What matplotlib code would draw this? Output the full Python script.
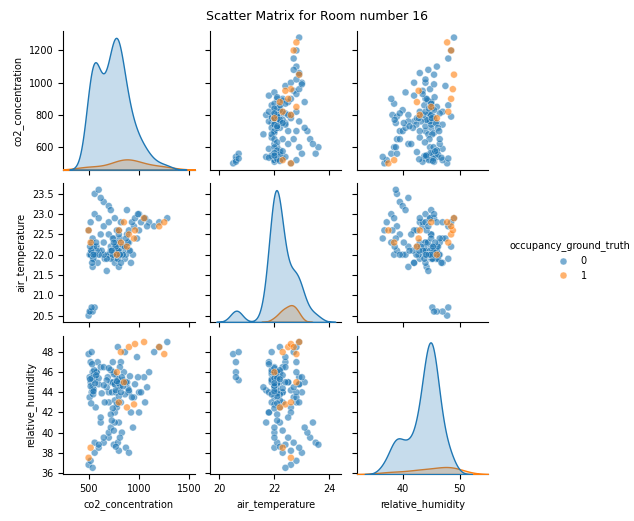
import matplotlib
matplotlib.use("Agg")
import matplotlib.pyplot as plt
import seaborn as sns
import pandas as pd

co2_0 = [500,520,540,560,510,530, 520,540,560,580,530,550,600,510,570,590,620,540,
         500,520,560,600,650,700,750,800,540, 560,600,650,700,620,
         700,720,750,780,800,820,760,740,850,880,900,780,800,830,700,650,680,760,950,1000,
         1050,1100,980,920,860,790,720,870,900,1000,940,620,660,760,820,880,780,730,810,690,
         770,840,800,1280,1150,1200,
         740,760,790,810,830,770,750,720,800,780,860,890,910,700,680,650,630,600,580,550,
         760,780,800,820,740,720,840,870,900,930,960,990,1020,1060,1080,790,810,770,750,730,
         520,530,545,555,565,575,525,535,548,515]
temp_0 = [20.5,20.6,20.6,20.7,20.6,20.7, 22.0,22.1,22.0,22.2,22.3,21.9,22.1,22.0,22.2,21.8,22.0,21.7,
          22.6,22.8,23.0,22.9,22.7,22.5,22.4,22.6,22.4, 23.5,23.6,23.3,23.2,23.4,
          22.0,22.2,21.9,22.1,22.0,22.3,21.8,22.4,22.2,22.5,22.1,22.6,21.7,22.0,22.8,22.3,21.6,22.9,22.7,23.0,
          22.9,22.8,22.4,21.8,21.9,22.2,23.1,22.0,22.3,22.6,22.0,22.5,21.9,22.2,22.8,23.1,21.9,22.1,22.4,22.0,
          22.3,22.1,22.5,22.9,22.7,22.8,
          22.0,22.1,21.9,22.0,22.2,22.1,22.0,21.9,22.1,22.0,22.2,22.3,22.1,22.0,21.9,22.0,22.1,22.0,22.1,22.0,
          22.2,22.0,22.1,21.8,22.0,22.1,22.0,22.4,22.6,22.8,22.9,23.0,22.8,22.9,22.7,22.1,22.0,22.2,22.3,22.1,
          22.0,22.1,21.9,22.2,22.0,22.3,22.1,21.8,22.0,22.2]
hum_0 = [47.8,47.0,46.0,45.2,45.5,48.0, 45.0,44.5,45.5,46.0,44.0,45.8,44.8,43.5,42.5,47.0,46.5,44.2,
         36.8,37.2,38.0,38.5,39.0,39.5,38.8,38.2,36.5, 39.0,38.8,39.5,40.0,41.0,
         44.0,45.0,46.0,45.5,44.5,43.0,42.0,47.0,46.0,45.0,44.0,42.5,41.0,40.0,43.0,46.5,44.5,44.8,43.5,44.0,
         45.5,46.0,47.5,42.0,48.0,48.5,40.5,38.5,38.0,42.0,40.5,41.5,43.0,41.0,47.0,45.0,45.0,44.0,46.5,45.5,
         44.0,45.2,45.0,49.0,48.0,48.5,
         45.0,44.8,45.3,44.6,45.5,44.2,45.8,46.2,44.9,45.1,43.8,44.4,45.6,46.4,45.2,44.7,43.9,45.4,46.0,44.3,
         43.2,42.8,43.6,44.0,42.4,41.8,44.6,45.0,44.2,43.5,44.8,45.5,44.0,43.0,44.5,39.0,39.5,38.6,40.2,41.2,
         44.6,45.4,43.8,46.2,44.9,45.7,42.9,46.8,44.1,45.3]
co2_1 = [820,900,960,1050,1200,1250,950,880,800,500,520,850,780]
temp_1 = [22.3,22.5,22.6,22.9,22.7,22.8,22.4,22.2,22.6,22.6,22.3,22.8,22.0]
hum_1 = [48.0,48.5,48.8,49.0,48.5,47.8,42.8,42.5,43.0,37.5,38.5,45.0,46.0]

df = pd.DataFrame({
    "co2_concentration": co2_0 + co2_1,
    "air_temperature": temp_0 + temp_1,
    "relative_humidity": hum_0 + hum_1,
    "occupancy_ground_truth": [0]*len(co2_0) + [1]*len(co2_1),
})

g = sns.pairplot(df, hue="occupancy_ground_truth", diag_kind="kde",
                 plot_kws={"alpha": 0.6, "s": 25}, height=1.6)
g.fig.set_size_inches(6.34, 5.21)
g.fig.suptitle("Scatter Matrix for Room number 16", fontsize=9)
for ax in g.axes.flat:
    ax.tick_params(labelsize=7)
    ax.xaxis.label.set_size(7)
    ax.yaxis.label.set_size(7)
g.axes[2, 0].set_xlim(250, 1550)
g.axes[2, 0].set_xticks([500, 1000, 1500])
g.axes[2, 1].set_xticks([20, 22, 24])
g.axes[2, 2].set_xlim(32, 55)
g.axes[2, 2].set_xticks([40, 50])
g.fig.subplots_adjust(left=0.1, right=0.77, bottom=0.09, top=0.94, wspace=0.12, hspace=0.1)
sns.move_legend(g, "center left", bbox_to_anchor=(0.79, 0.5), fontsize=7, title_fontsize=7)
g.fig.savefig("out.png", dpi=100)
